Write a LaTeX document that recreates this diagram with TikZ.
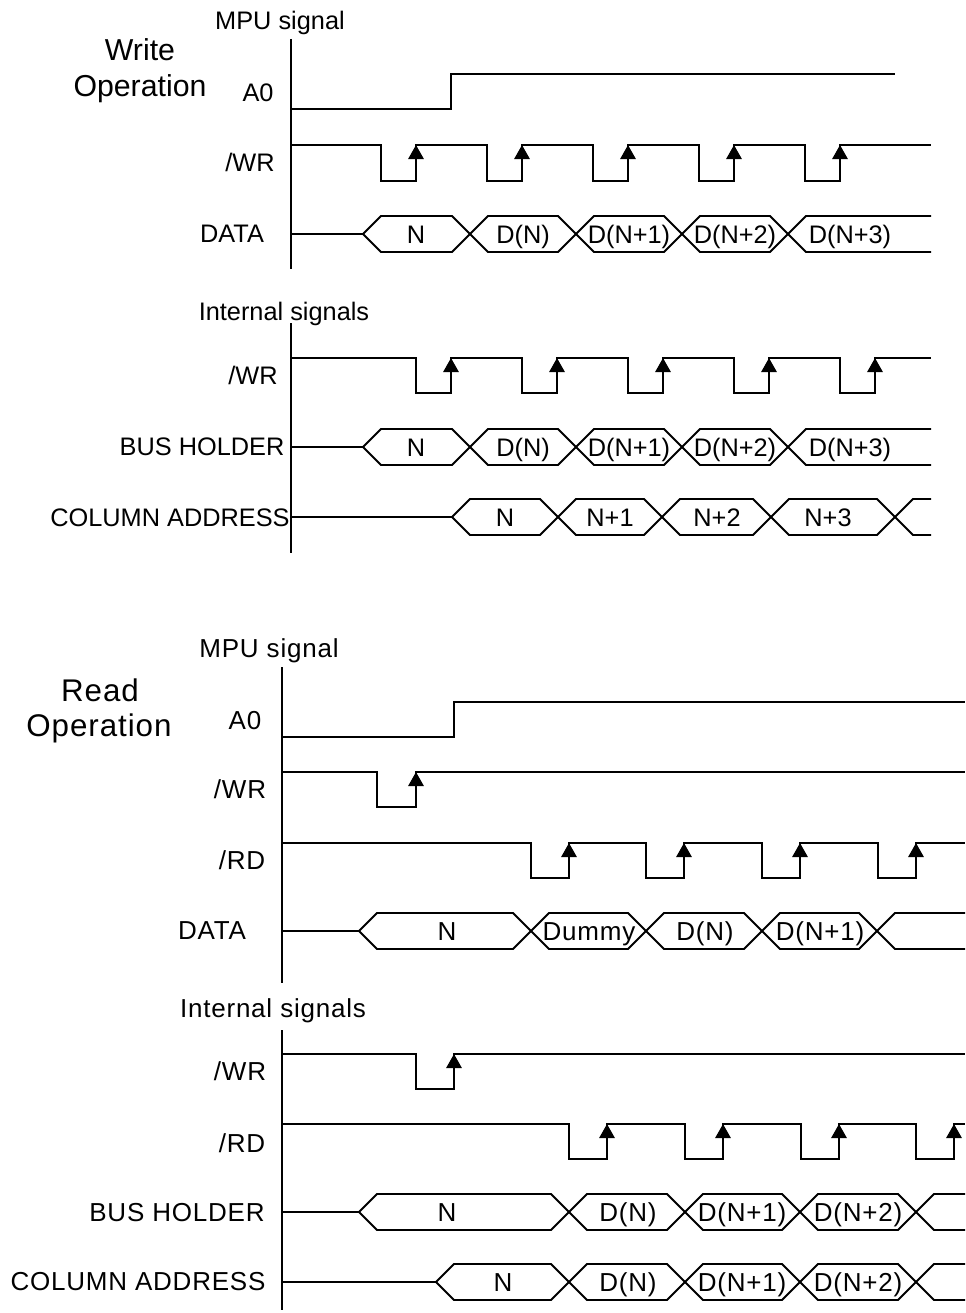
\documentclass[tikz,border=0pt]{standalone}
\usepackage{fontspec}
\setmainfont{Liberation Sans}
\newfontfamily\readfont[LetterSpace=3]{Liberation Sans}
\usetikzlibrary{arrows.meta}

% one closed bus value: left crossing, right crossing, middle y
\newcommand{\busseg}[3]{%
  \draw (#1,#3) -- (#1+18,#3-18) -- (#2-18,#3-18) -- (#2,#3)
    -- (#2-18,#3+18) -- (#1+18,#3+18) -- cycle;}
% last bus value, open to the right
\newcommand{\busopen}[3]{%
  \draw (#2,#3-18) -- (#1+18,#3-18) -- (#1,#3) -- (#1+18,#3+18) -- (#2,#3+18);}

\begin{document}
\begin{tikzpicture}[x=0.75pt, y=-0.75pt, line width=1.4pt,
    every node/.style={font=\fontsize{19}{22}\selectfont, inner sep=0pt,
      text height=16.5pt, text depth=3pt},
    title/.style={font=\fontsize{22.7}{26}\selectfont, text height=19pt, text depth=3pt},
    rlabel/.style={font=\readfont\fontsize{19.5}{22}\selectfont},
    rtitle/.style={font=\readfont\fontsize{23.5}{26}\selectfont, text height=19.5pt, text depth=3pt},
    edge/.style={-{Triangle[length=10.5pt,width=11.5pt]}}]
    \useasboundingbox (0,0) rectangle (965,1313);

    % write operation
    \node (wmpu) at (280,21) {MPU signal};
    \node[title] (wtitle1) at (140,50) {Write};
    \node[title] (wtitle2) at (140,86) {Operation};
    \draw (291,39) -- (291,269);
    \draw (291,323) -- (291,553);

    \node (wa0) at (258,92) {A0};
    \draw (291,109) -- (451,109) -- (451,74) -- (895,74);

    \node (wwr) at (250,162) {/WR};
    \draw (291,145) foreach \f in {381,487,593,699,805}
      { -- (\f,145) -- (\f,181) -- (\f+35,181) -- (\f+35,145) } -- (931,145);
    \foreach \f in {381,487,593,699,805}
      \draw[edge] (\f+35,181) -- (\f+35,145);

    \node (wdata) at (232,233) {DATA};
    \draw (291,234) -- (363,234);
    \foreach \a/\b/\t/\m [count=\i] in {363/470/N/416, 470/576/D(N)/523,
        576/682/D(N+1)/629, 682/788/D(N+2)/735} {
      \busseg{\a}{\b}{234}
      \node (wd\i) at (\m,234) {\t};
    }
    \busopen{788}{931}{234}
    \node (wd5) at (850,234) {D(N+3)};

    \node (wint) at (284,311) {Internal signals};

    \node (wiwr) at (253,375) {/WR};
    \draw (291,358) foreach \f in {416,522,628,734,840}
      { -- (\f,358) -- (\f,393) -- (\f+35,393) -- (\f+35,358) } -- (931,358);
    \foreach \f in {416,522,628,734,840}
      \draw[edge] (\f+35,393) -- (\f+35,358);

    \node (wbus) at (202,446) {BUS HOLDER};
    \draw (291,447) -- (363,447);
    \foreach \a/\b/\t/\m [count=\i] in {363/470/N/416, 470/576/D(N)/523,
        576/682/D(N+1)/629, 682/788/D(N+2)/735} {
      \busseg{\a}{\b}{447}
      \node (wb\i) at (\m,447) {\t};
    }
    \busopen{788}{931}{447}
    \node (wb5) at (850,447) {D(N+3)};

    \node (wcol) at (170,517) {COLUMN ADDRESS};
    \draw (291,517) -- (452,517);
    \foreach \a/\b/\t/\m [count=\i] in {452/558/N/505, 558/662/N+1/610,
        662/771/N+2/717, 771/895/N+3/828} {
      \busseg{\a}{\b}{517}
      \node (wc\i) at (\m,517) {\t};
    }
    \busopen{895}{931}{517}

    % read operation
    \begin{scope}[every node/.append style={rlabel}]
    \node (rmpu) at (269,648) {MPU signal};
    \node[rtitle] (rtitle1) at (100,690) {Read};
    \node[rtitle] (rtitle2) at (99,725) {Operation};
    \draw (282,667) -- (282,983);
    \draw (282,1030) -- (282,1310);

    \node (ra0) at (245,720) {A0};
    \draw (282,737) -- (454,737) -- (454,702) -- (965,702);

    \node (rwr) at (240,789) {/WR};
    \draw (282,772) -- (377,772) -- (377,807) -- (416,807) -- (416,772) -- (965,772);
    \draw[edge] (416,807) -- (416,772);

    \node (rrd) at (242,860) {/RD};
    \draw (282,843) foreach \f in {531,646,762,878}
      { -- (\f,843) -- (\f,878) -- (\f+38,878) -- (\f+38,843) } -- (965,843);
    \foreach \f in {531,646,762,878}
      \draw[edge] (\f+38,878) -- (\f+38,843);

    \node (rdata) at (212,930) {DATA};
    \draw (282,931) -- (359,931);
    \foreach \a/\b/\t/\m [count=\i] in {359/531/N/447, 531/646/Dummy/589,
        646/762/D(N)/705, 762/877/D(N+1)/820} {
      \busseg{\a}{\b}{931}
      \node (rd\i) at (\m,931) {\t};
    }
    \busopen{877}{965}{931}

    \node (rint) at (273,1008) {Internal signals};

    \node (riwr) at (240,1071) {/WR};
    \draw (282,1054) -- (416,1054) -- (416,1089) -- (454,1089) -- (454,1054) -- (965,1054);
    \draw[edge] (454,1089) -- (454,1054);

    \node (rird) at (242,1143) {/RD};
    \draw (282,1124) foreach \f in {569,685,801,916}
      { -- (\f,1124) -- (\f,1159) -- (\f+38,1159) -- (\f+38,1124) } -- (965,1124);
    \foreach \f in {569,685,801,916}
      \draw[edge] (\f+38,1159) -- (\f+38,1124);

    \node (rbus) at (177,1212) {BUS HOLDER};
    \draw (282,1212) -- (359,1212);
    \foreach \a/\b/\t/\m [count=\i] in {359/569/N/447, 569/685/D(N)/628,
        685/800/D(N+1)/742, 800/916/D(N+2)/858} {
      \busseg{\a}{\b}{1212}
      \node (rb\i) at (\m,1212) {\t};
    }
    \busopen{916}{965}{1212}

    \node (rcol) at (138,1281) {COLUMN ADDRESS};
    \draw (282,1282) -- (436,1282);
    \foreach \a/\b/\t/\m [count=\i] in {436/569/N/503, 569/685/D(N)/628,
        685/800/D(N+1)/742, 800/916/D(N+2)/858} {
      \busseg{\a}{\b}{1282}
      \node (rc\i) at (\m,1282) {\t};
    }
    \busopen{916}{965}{1282}
    \end{scope}

  \end{tikzpicture}
\end{document}
